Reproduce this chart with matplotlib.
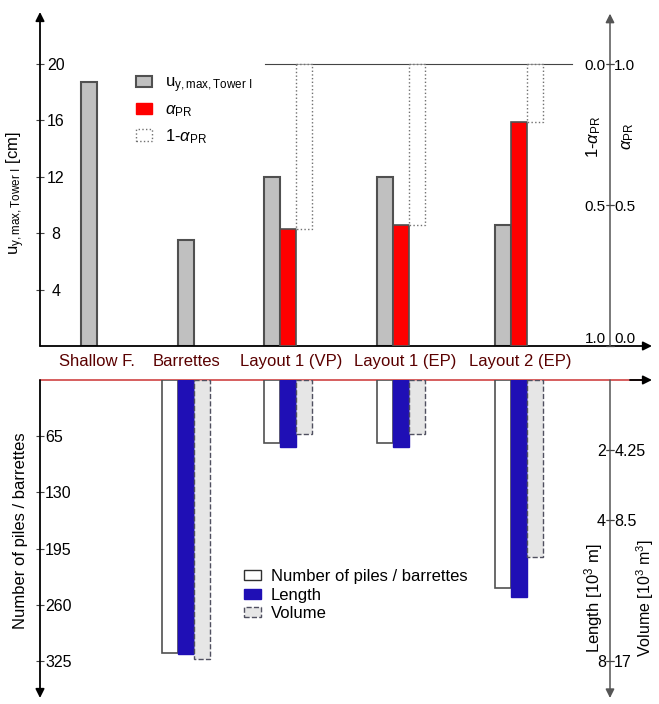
import numpy as np
import matplotlib
matplotlib.use('Agg')
import matplotlib.pyplot as plt
from matplotlib.patches import Patch

plt.rcParams['font.family'] = ['Liberation Sans', 'DejaVu Sans']
plt.rcParams['mathtext.fontset'] = 'custom'
plt.rcParams['mathtext.rm'] = 'Liberation Sans'
plt.rcParams['mathtext.it'] = 'Liberation Sans:italic'
plt.rcParams['mathtext.bf'] = 'Liberation Sans:bold'

# ---------------- data ----------------
categories = ['Shallow F.', 'Barrettes', 'Layout 1 (VP)', 'Layout 1 (EP)', 'Layout 2 (EP)']
u_max_cm = [18.7, 7.5, 12.0, 12.0, 8.6]
alpha_pr = [np.nan, np.nan, 0.415, 0.43, 0.795]
n_piles = [np.nan, 316, 73, 73, 241]
length_km = [np.nan, 7.8, 1.91, 1.91, 6.18]
volume_km3 = [np.nan, 16.9, 3.27, 3.27, 10.7]

u_ticks = [4, 8, 12, 16, 20]
alpha_ticks = [0.0, 0.5, 1.0]
pile_ticks = [65, 130, 195, 260, 325]
length_ticks = [2, 4, 8]
volume_ticks = [4.25, 8.5, 17]

# ---------------- layout ----------------
W, H = 659, 704
fig = plt.figure(figsize=(W / 100, H / 100), dpi=100)


def frac(x0, y0, x1, y1):
    return [x0 / W, 1 - y1 / H, (x1 - x0) / W, (y1 - y0) / H]


ax_top = fig.add_axes(frac(40, 12, 610, 346))
ax_bot = fig.add_axes(frac(40, 380, 610, 698))

group_x = np.array([49, 146, 248, 361, 479], dtype=float)
label_x = [57, 146, 251, 365, 480]
w = 15.7
XMAX = 570

C_GRAY = '#c0c0c0'
C_EDGE = '#505050'
C_RED = '#ff0000'
C_BLUE = '#1f0fb5'
C_VOL = '#e6e6e6'
C_CAT = '#5a0000'

u_top = 23.69
for ax in (ax_top, ax_bot):
    ax.set_xlim(0, XMAX)
    for s in ax.spines.values():
        s.set_visible(False)
    ax.patch.set_visible(False)

# ---------------- top panel ----------------
ax_top.set_ylim(0, u_top)
u_x = [g if i < 2 else g - w for i, g in enumerate(group_x)]
ax_top.bar(u_x, u_max_cm, width=w, color=C_GRAY, edgecolor=C_EDGE, linewidth=1.5, zorder=3)

ax_a = ax_top.twinx()
ax_a.set_ylim(0, u_top / 20.0)
ax_a.bar(group_x, alpha_pr, width=w, color=C_RED, edgecolor=C_EDGE, linewidth=1.2, zorder=3)
ax_a.axhline(1.0, xmin=(265 - 40) / XMAX, xmax=(572 - 40) / XMAX, color='#444444', lw=0.8, zorder=1)

ax_1a = ax_top.twinx()
ax_1a.set_ylim(1.0, 1.0 - u_top / 20.0)
one_minus = [1 - a for a in alpha_pr]
ax_1a.bar(group_x + w, one_minus, width=w, color='white', edgecolor='#707070',
          linewidth=1.0, linestyle=':', zorder=3)

for ax in (ax_a, ax_1a):
    for s in ax.spines.values():
        s.set_visible(False)
    ax.patch.set_visible(False)

# category labels
ax_top.set_xticks(label_x)
ax_top.set_xticklabels(categories, fontsize=12, color=C_CAT)
ax_top.tick_params(axis='x', length=0, pad=6)

# left ticks
ax_top.set_yticks(u_ticks)
ax_top.set_yticklabels([str(t) for t in u_ticks])
ax_top.tick_params(axis='y', direction='inout', length=6, width=0.8, pad=-14.5, labelsize=11.5, color='#444444')
plt.setp(ax_top.get_yticklabels(), ha='center')
ax_top.set_ylabel(r'u$_{\mathrm{y,max,Tower\ I}}$ [cm]', fontsize=12)
ax_top.yaxis.set_label_coords((27 - 40) / XMAX, 0.458)

# alpha axis (right of spine)
ax_a.set_yticks(alpha_ticks)
ax_a.set_yticklabels(['%.1f' % t for t in alpha_ticks])
ax_a.tick_params(axis='y', direction='inout', length=6, width=0.8, pad=0, labelsize=11, color='#444444')
ax_a.yaxis.get_major_ticks()[0].label2.set_va('bottom')
ax_a.set_ylabel(r'$\alpha_{\mathrm{PR}}$', fontsize=12)
ax_a.yaxis.set_label_coords((620 - 40) / XMAX, 0.626)

# 1-alpha axis (left of right spine)
ax_1a.spines['left'].set_position(('axes', 1.0))
ax_1a.yaxis.set_ticks_position('left')
ax_1a.yaxis.set_label_position('left')
ax_1a.set_yticks(alpha_ticks)
ax_1a.set_yticklabels(['%.1f' % t for t in alpha_ticks])
ax_1a.tick_params(axis='y', direction='inout', length=6, width=0.8, pad=0, labelsize=11, color='#444444')
ax_1a.yaxis.get_major_ticks()[2].label1.set_va('bottom')
ax_1a.set_ylabel(r'1-$\alpha_{\mathrm{PR}}$', fontsize=12)
ax_1a.yaxis.set_label_coords((603 - 40) / XMAX, 0.626)

# axis lines with arrows (top panel)
arrow_kw = dict(arrowstyle='-|>', color='black', lw=1.3, mutation_scale=13, shrinkA=0, shrinkB=0)
ax_top.annotate('', xy=(0, 1.0), xytext=(0, 0), xycoords='axes fraction', arrowprops=arrow_kw, annotation_clip=False)
ax_top.annotate('', xy=((652 - 40) / XMAX, 0), xytext=(0, 0), xycoords='axes fraction', arrowprops=arrow_kw, annotation_clip=False)
ax_top.annotate('', xy=(1, 0.995), xytext=(1, 0), xycoords='axes fraction',
                arrowprops=dict(arrowstyle='-|>', color='#555555', lw=1.1, mutation_scale=13, shrinkA=0, shrinkB=0),
                annotation_clip=False)

# top legend
h_top = [Patch(facecolor=C_GRAY, edgecolor=C_EDGE, linewidth=1.5),
         Patch(facecolor=C_RED, edgecolor=C_RED),
         Patch(facecolor='white', edgecolor='#707070', linestyle=':', linewidth=1.0)]
l_top = [r'u$_{\mathrm{y,max,Tower\ I}}$', r'$\alpha_{\mathrm{PR}}$', r'1-$\alpha_{\mathrm{PR}}$']
leg1 = ax_1a.legend(h_top, l_top, loc='upper left', bbox_to_anchor=((136 - 40) / XMAX, 0.81),
                    frameon=False, borderpad=0, borderaxespad=0, handlelength=0.95, handleheight=0.65,
                    handletextpad=0.8, labelspacing=0.45, fontsize=12)

# ---------------- bottom panel ----------------
n_top = 367.8
ax_bot.set_ylim(n_top, 0)
ax_bot.bar(group_x - w, n_piles, width=w, color='white', edgecolor=C_EDGE, linewidth=1.2, zorder=3)
ax_bot.set_xticks([])

ax_len = ax_bot.twinx()
ax_len.set_ylim(n_top * 8 / 325, 0)
ax_len.bar(group_x, length_km, width=w, color=C_BLUE, edgecolor=C_BLUE, linewidth=1.0, zorder=3)

ax_vol = ax_bot.twinx()
ax_vol.set_ylim(n_top * 17 / 325, 0)
ax_vol.bar(group_x + w, volume_km3, width=w, color=C_VOL, edgecolor='#505060', linewidth=1.0,
           linestyle='--', zorder=3)

for ax in (ax_len, ax_vol):
    for s in ax.spines.values():
        s.set_visible(False)
    ax.patch.set_visible(False)

ax_bot.set_yticks(pile_ticks)
ax_bot.set_yticklabels([str(t) for t in pile_ticks])
ax_bot.tick_params(axis='y', direction='inout', length=6, width=0.8, pad=-6.6, labelsize=11.5, color='#444444')
plt.setp(ax_bot.get_yticklabels(), ha='left')
ax_bot.set_ylabel('Number of piles / barrettes', fontsize=12)
ax_bot.yaxis.set_label_coords((28 - 40) / XMAX, 0.525)

ax_len.spines['left'].set_position(('axes', 1.0))
ax_len.yaxis.set_ticks_position('left')
ax_len.yaxis.set_label_position('left')
ax_len.set_yticks(length_ticks)
ax_len.set_yticklabels([str(t) for t in length_ticks])
ax_len.tick_params(axis='y', direction='inout', length=6, width=0.8, pad=0, labelsize=11.5, color='#444444')
ax_len.set_ylabel(r'Length [10$^3$ m]', fontsize=12)
ax_len.yaxis.set_label_coords((605 - 40) / XMAX, 0.314)

ax_vol.set_yticks(volume_ticks)
ax_vol.set_yticklabels(['4.25', '8.5', '17'])
ax_vol.tick_params(axis='y', direction='inout', length=6, width=0.8, pad=0, labelsize=11.5, color='#444444')
ax_vol.set_ylabel(r'Volume [10$^3$ m$^3$]', fontsize=11.5)
ax_vol.yaxis.set_label_coords((634 - 40) / XMAX, 0.314)

# bottom axis lines
ax_bot.plot([0, (645 - 40) / XMAX], [1, 1], transform=ax_bot.transAxes, color='#cc3333', lw=1.1, clip_on=False)
ax_bot.annotate('', xy=((652 - 40) / XMAX, 1), xytext=((630 - 40) / XMAX, 1), xycoords='axes fraction',
                arrowprops=arrow_kw, annotation_clip=False)
ax_bot.annotate('', xy=(0, 0), xytext=(0, 1), xycoords='axes fraction', arrowprops=arrow_kw, annotation_clip=False)
ax_bot.annotate('', xy=(1, 0), xytext=(1, 1), xycoords='axes fraction',
                arrowprops=dict(arrowstyle='-|>', color='#555555', lw=1.1, mutation_scale=13, shrinkA=0, shrinkB=0),
                annotation_clip=False)

h_bot = [Patch(facecolor='white', edgecolor='#303030', linewidth=1.0),
         Patch(facecolor=C_BLUE, edgecolor=C_BLUE),
         Patch(facecolor=C_VOL, edgecolor='#505060', linestyle='--', linewidth=1.0)]
l_bot = ['Number of piles / barrettes', 'Length', 'Volume']
leg2 = ax_vol.legend(h_bot, l_bot, loc='upper left', bbox_to_anchor=((244 - 40) / XMAX, 0.405),
                     frameon=False, borderpad=0, borderaxespad=0, handlelength=1.0, handleheight=0.55,
                     handletextpad=0.6, labelspacing=0.2, fontsize=12)

fig.savefig('out.png', dpi=100)
